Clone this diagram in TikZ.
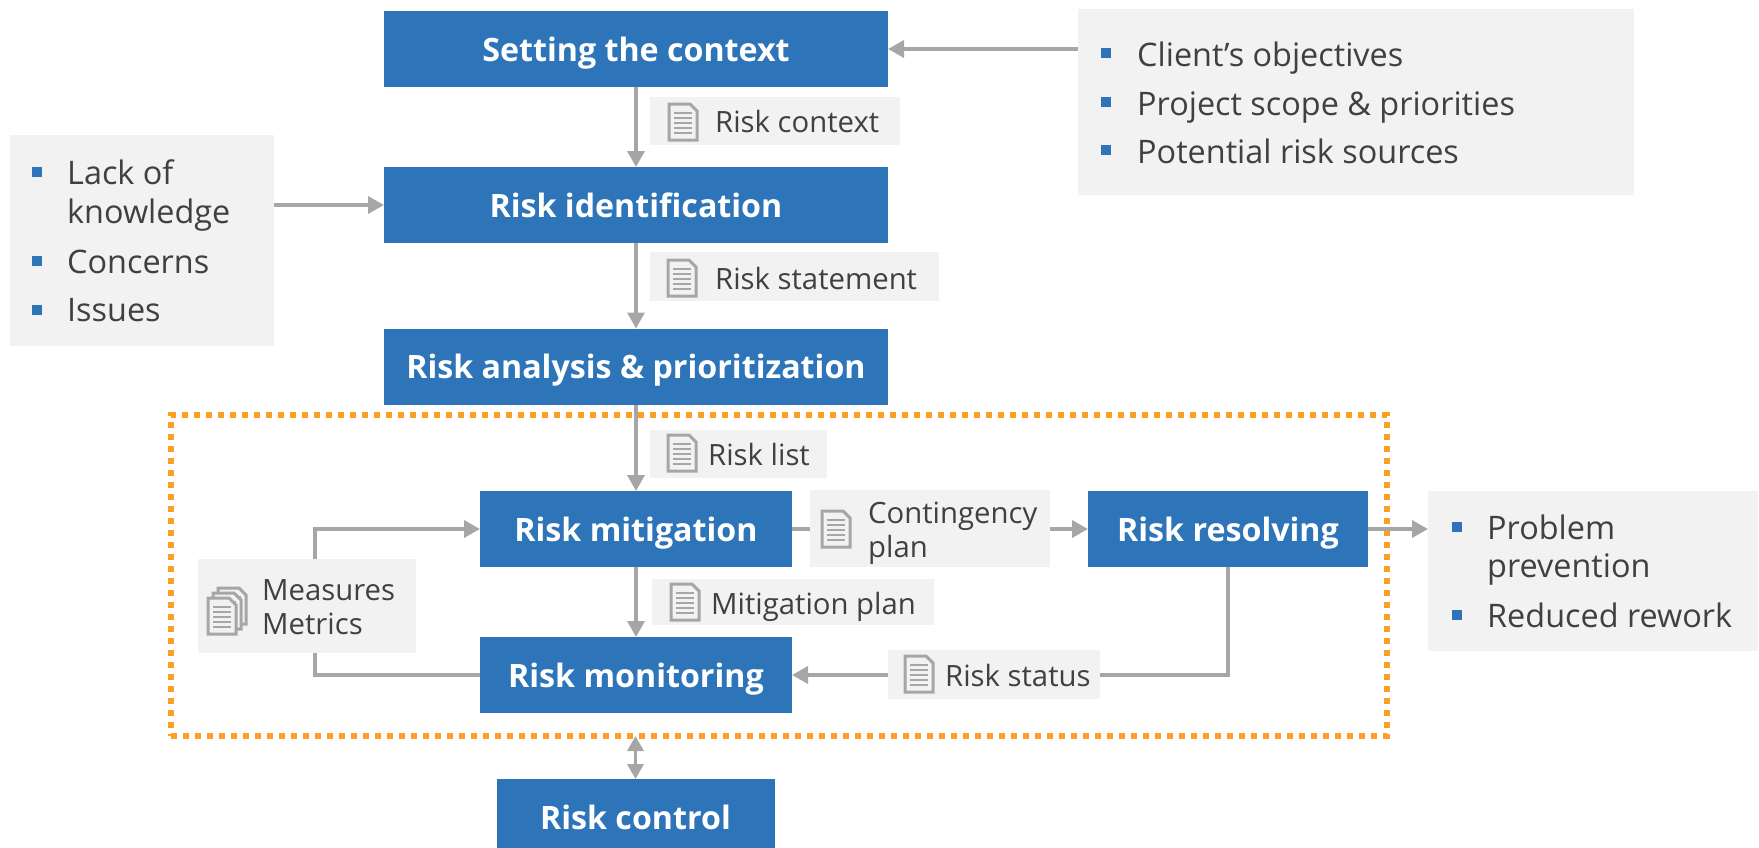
\documentclass[tikz,border=0pt]{standalone}
\usepackage{fontspec}
\setmainfont{Open Sans}
\usetikzlibrary{arrows.meta}
\definecolor{stepblue}{HTML}{2E74B9}
\definecolor{notegray}{HTML}{F2F2F2}
\definecolor{flowgray}{HTML}{A6A6A6}
\definecolor{inktext}{HTML}{404040}
\definecolor{frameorange}{HTML}{FF9E24}
\tikzset{
  stepbox/.style={fill=stepblue, text=white, inner sep=0pt, outer sep=0pt, font=\fontsize{32.2}{38}\selectfont\bfseries, text height=28pt, text depth=4pt},
  notebox/.style={fill=notegray, inner sep=0pt, outer sep=0pt},
  flow/.style={flowgray, line width=3.5pt, -{Triangle[length=16pt,width=17pt]}},
  itemtext/.style={text=inktext, inner sep=0pt, anchor=base west, font=\fontsize{32.4}{38}\selectfont},
  notetext/.style={text=inktext, inner sep=0pt, anchor=base west, font=\fontsize{29.3}{34}\selectfont},
  squarebullet/.style={fill=stepblue, inner sep=0pt, minimum size=10pt},
  docicon/.pic={
    \draw [flowgray, line width=3pt, fill=notegray] (-14,-18) -- (7,-18) -- (14,-11) -- (14,18) -- (-14,18) -- cycle;
    \foreach \ly in {-9,-4,1,6,11} \draw [flowgray, line width=2.2pt] (-9,\ly) -- (9,\ly);
  }
}
\begin{document}
\begin{tikzpicture}[x=1pt,y=-1pt]
\useasboundingbox (0,0) rectangle (1759,847);

\node [draw=frameorange, line width=6pt, dash pattern=on 6pt off 6pt, minimum width=1216pt, minimum height=321pt, inner sep=0pt, outer sep=0pt] (riskframe) at (779,575.5) {};

\node [stepbox, minimum width=504pt, minimum height=76pt] (setctx) at (636,49) {Setting the context};
\node [stepbox, minimum width=504pt, minimum height=76pt] (riskid) at (636,205) {Risk identification};
\node [stepbox, minimum width=504pt, minimum height=76pt] (riskan) at (636,366.5) {Risk analysis \& prioritization};
\node [stepbox, minimum width=312pt, minimum height=76pt] (riskmit) at (636,529) {Risk mitigation};
\node [stepbox, minimum width=280pt, minimum height=76pt] (riskres) at (1228,529) {Risk resolving};
\node [stepbox, minimum width=312pt, minimum height=76pt] (riskmon) at (636,675) {Risk monitoring};
\node [stepbox, minimum width=278pt, minimum height=76pt] (riskctl) at (635.5,817) {Risk control};

\node [notebox, minimum width=556pt, minimum height=186pt] (clientbox) at (1356,102) {};
\node [notebox, minimum width=264pt, minimum height=211pt] (lackbox) at (142,240.5) {};
\node [notebox, minimum width=330pt, minimum height=160pt] (gainbox) at (1593,571) {};

\coordinate (loopx) at (315,600);
\coordinate (reslow) at (1228,567);

\draw [flow] (setctx.south) -- (riskid.north);
\draw [flow] (riskid.south) -- (riskan.north);
\draw [flow] (riskan.south) -- (riskmit.north);
\draw [flow] (riskmit.south) -- (riskmon.north);
\draw [flow] (clientbox.west |- setctx.east) -- (setctx.east);
\draw [flow] (lackbox.east |- riskid.west) -- (riskid.west);
\draw [flow] (riskmit.east) -- (riskres.west);
\draw [flow] (riskres.east) -- (gainbox.west |- riskres.east);
\draw [flow] (reslow) |- (riskmon.east);
\draw [flow] (riskmon.west) -| (loopx) |- (riskmit.west);
\draw [flow, {Triangle[length=15pt,width=16pt]}-{Triangle[length=15pt,width=16pt]}] (riskframe.south -| riskctl.north) -- (riskctl.north);

\node [notebox, minimum width=250pt, minimum height=48pt] (ctxnote) at (775,121) {};
\node [notebox, minimum width=289pt, minimum height=49pt] (stmtnote) at (794.5,276.5) {};
\node [notebox, minimum width=177pt, minimum height=48pt] (listnote) at (738.5,454) {};
\node [notebox, minimum width=240pt, minimum height=77pt] (contnote) at (930,528.5) {};
\node [notebox, minimum width=282pt, minimum height=46pt] (plannote) at (793,602) {};
\node [notebox, minimum width=218pt, minimum height=94pt] (metnote) at (307,606) {};
\node [notebox, minimum width=212pt, minimum height=49pt] (statnote) at (994,674.5) {};

\pic at (683,122) {docicon};
\pic at (682,278) {docicon};
\pic at (682,453) {docicon};
\pic at (836,529) {docicon};
\pic at (685,602) {docicon};
\pic at (919,674) {docicon};
\pic at (232,606) {docicon};
\pic at (227,611) {docicon};
\pic at (222,616) {docicon};

\node [notetext] (ctxtext) at (715,132) {Risk context};
\node [notetext] (stmttext) at (715,289) {Risk statement};
\node [notetext] (listtext) at (708,465) {Risk list};
\node [notetext] (conttext) at (868,523) {Contingency};
\node [notetext] (planword) at (868,557) {plan};
\node [notetext] (plantext) at (711,614) {Mitigation plan};
\node [notetext] (meastext) at (262,600) {Measures};
\node [notetext] (mettext) at (262,634) {Metrics};
\node [notetext] (stattext) at (945,686) {Risk status};

\node [squarebullet] (cb1) at (1106,53) {};
\node [squarebullet] (cb2) at (1106,102) {};
\node [squarebullet] (cb3) at (1106,150) {};
\node [itemtext] (ct1) at (1137,66) {Client’s objectives};
\node [itemtext] (ct2) at (1137,115) {Project scope \& priorities};
\node [itemtext] (ct3) at (1137,163) {Potential risk sources};

\node [squarebullet] (lb1) at (37,172) {};
\node [squarebullet] (lb2) at (37,261) {};
\node [squarebullet] (lb3) at (37,310) {};
\node [itemtext] (lt1) at (67,184) {Lack of};
\node [itemtext] (lt1b) at (67,223) {knowledge};
\node [itemtext] (lt2) at (67,273) {Concerns};
\node [itemtext] (lt3) at (67,321) {Issues};

\node [squarebullet] (gb1) at (1457,527) {};
\node [squarebullet] (gb2) at (1457,615) {};
\node [itemtext] (gt1) at (1487,539) {Problem};
\node [itemtext] (gt1b) at (1487,577) {prevention};
\node [itemtext] (gt2) at (1487,627) {Reduced rework};
\end{tikzpicture}
\end{document}
